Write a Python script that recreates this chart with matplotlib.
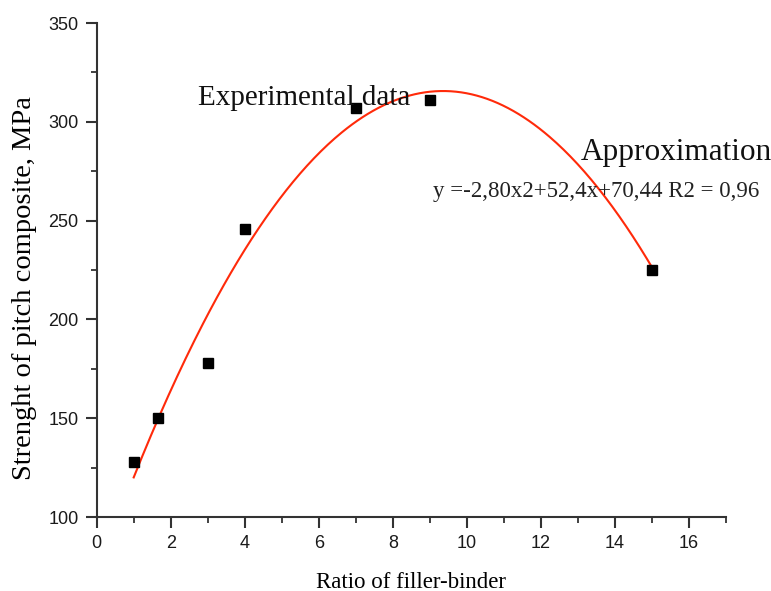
import numpy as np
import matplotlib
matplotlib.use("Agg")
import matplotlib.pyplot as plt
from matplotlib.ticker import MultipleLocator

# experimental points
ratio = [1, 1.65, 3, 4, 7, 9, 15]
strength = [128, 150, 178, 246, 307, 311, 225]

# approximation printed on the chart: y = -2,80x2 + 52,4x + 70,44
fit_coeffs = [-2.80, 52.4, 70.44]
fit_range = (1, 15)

fig = plt.figure(figsize=(7.71, 5.91), dpi=100)
ax = fig.add_axes([0.1254, 0.1252, 0.8162, 0.8358])

xs = np.linspace(fit_range[0], fit_range[1], 300)
ax.plot(xs, np.polyval(fit_coeffs, xs), color="#ff2a0a", lw=1.5, zorder=2)
ax.plot(ratio, strength, "s", color="black", ms=7.5, zorder=3)

ax.set_xlim(0, 17)
ax.set_ylim(100, 350)
ax.xaxis.set_major_locator(MultipleLocator(2))
ax.xaxis.set_minor_locator(MultipleLocator(1))
ax.yaxis.set_major_locator(MultipleLocator(50))
ax.yaxis.set_minor_locator(MultipleLocator(25))

for side in ["top", "right"]:
    ax.spines[side].set_visible(False)
for side in ["left", "bottom"]:
    ax.spines[side].set_linewidth(1.5)
    ax.spines[side].set_color("#333333")

ax.tick_params(which="major", direction="out", length=8, width=1.5,
               color="#333333", labelsize=13, labelcolor="#1a1a1a", pad=5)
ax.tick_params(which="minor", direction="out", length=4, width=1.3, color="#333333")
for lab in ax.get_xticklabels() + ax.get_yticklabels():
    lab.set_family("Liberation Sans")

serif = "Liberation Serif"
ax.set_xlabel("Ratio of filler-binder", family=serif, fontsize=16.5, labelpad=14)
ax.set_ylabel("Strenght of pitch composite, MPa", family=serif, fontsize=20.5, labelpad=8)
ax.yaxis.set_label_coords(-0.095, 0.4636)

ax.text(2.73, 308.4, "Experimental data", family=serif, fontsize=21,
        ha="left", va="baseline", color="#111111")
ax.text(13.08, 280.6, "Approximation", family=serif, fontsize=22.5,
        ha="left", va="baseline", color="#111111", clip_on=False)
ax.text(9.09, 262, "y =-2,80x2+52,4x+70,44 R2 = 0,96", family=serif, fontsize=16.5,
        ha="left", va="baseline", color="#222222", clip_on=False)

fig.savefig("out.png", dpi=100)
